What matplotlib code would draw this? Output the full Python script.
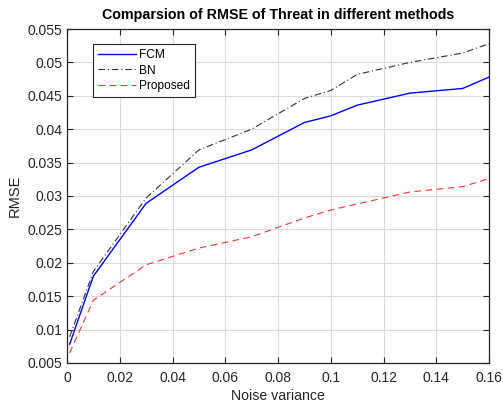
import matplotlib
matplotlib.use("Agg")
import matplotlib.pyplot as plt
import numpy as np

plt.rcParams['font.family'] = ['Liberation Sans', 'DejaVu Sans']

noise = [0.001, 0.01, 0.03, 0.05, 0.07, 0.09, 0.10, 0.11, 0.13, 0.15, 0.16]
fcm = [0.0078, 0.0180, 0.0289, 0.0343, 0.0369, 0.0410, 0.0420, 0.0436, 0.0454, 0.0461, 0.0478]
bn = [0.0089, 0.0187, 0.0297, 0.0369, 0.0400, 0.0446, 0.0458, 0.0482, 0.0500, 0.0514, 0.0528]
proposed = [0.0065, 0.0144, 0.0197, 0.0222, 0.0239, 0.0267, 0.0279, 0.0288, 0.0306, 0.0314, 0.0326]

xticks = [0, 0.02, 0.04, 0.06, 0.08, 0.1, 0.12, 0.14, 0.16]
xticklabels = ['0', '0.02', '0.04', '0.06', '0.08', '0.1', '0.12', '0.14', '0.16']
yticks = [0.005, 0.01, 0.015, 0.02, 0.025, 0.03, 0.035, 0.04, 0.045, 0.05, 0.055]
yticklabels = ['0.005', '0.01', '0.015', '0.02', '0.025', '0.03', '0.035', '0.04', '0.045', '0.05', '0.055']

fig = plt.figure(figsize=(5.03, 4.03), dpi=100)
ax = fig.add_axes([0.1332, 0.0993, 0.839, 0.8287])

ax.plot(noise, fcm, color='#0000ff', lw=1.0, ls='-', label='FCM')
ax.plot(noise, bn, color='#333333', lw=0.8, ls='-.', dashes=(6, 2.5, 1, 2.5), label='BN')
ax.plot(noise, proposed, color='#ff3333', lw=0.8, ls='--', dashes=(6, 4), label='Proposed')

ax.set_xlim(0, 0.16)
ax.set_ylim(0.005, 0.055)
ax.set_xticks(xticks)
ax.set_xticklabels(xticklabels)
ax.set_yticks(yticks)
ax.set_yticklabels(yticklabels)
ax.grid(True, color='#dcdcdc', lw=0.8)
ax.set_axisbelow(True)
ax.tick_params(direction='in', length=4, width=0.8, colors='#262626', labelsize=10,
               top=True, right=True, labeltop=False, labelright=False)
ax.tick_params(axis='x', pad=6)
for s in ax.spines.values():
    s.set_color('#262626')
    s.set_linewidth(0.9)

ax.set_xlabel('Noise variance', fontsize=10.2, color='#262626', labelpad=2.5)
ax.set_ylabel('RMSE', fontsize=10.5, color='#262626', labelpad=4)
ax.set_title('Comparsion of RMSE of Threat in different methods', fontsize=10.3,
             fontweight='bold', color='black', pad=7)

leg = ax.legend(loc='upper left', bbox_to_anchor=(0.0616, 0.955), fontsize=8.6,
                frameon=True, fancybox=False, edgecolor='#262626', framealpha=1,
                borderaxespad=0, handlelength=3.2, handletextpad=0.25,
                labelspacing=0.32, borderpad=0.4)
leg.get_frame().set_linewidth(0.8)

fig.savefig('out.png', dpi=100)
